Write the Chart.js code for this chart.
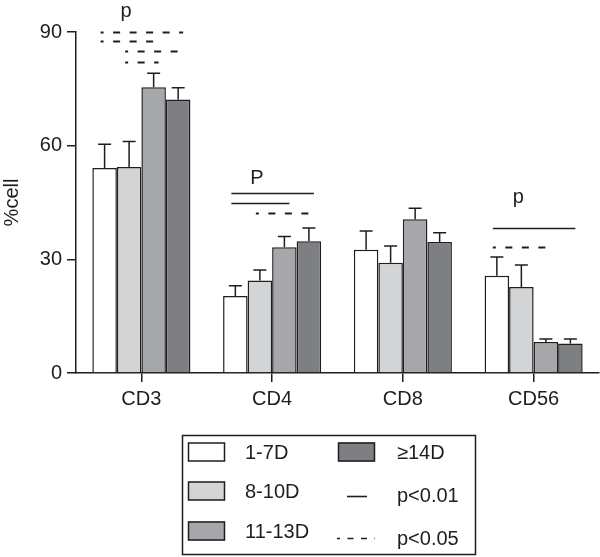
<!DOCTYPE html>
<html>
<head>
<meta charset="utf-8">
<script src="https://cdn.jsdelivr.net/npm/chart.js@4"></script>
<style>
html, body { margin: 0; padding: 0; background: #fff; }
</style>
</head>
<body>
<canvas id="myCanvas" width="600" height="557"></canvas>
<script>
'use strict'

var categories = ["CD3", "CD4", "CD8", "CD56"]
var seriesNames = ["1-7D", "8-10D", "11-13D", "\u226514D"]
var values1to7 = [54.1, 20.3, 32.5, 25.7]
var values8to10 = [54.4, 24.4, 29.1, 22.7]
var values11to13 = [75.4, 33.2, 40.6, 8.2]
var values14plus = [72.2, 34.8, 34.6, 7.8]
// upper error (SEM) for each bar
var err1to7 = [6.3, 2.7, 5.0, 4.9]
var err8to10 = [6.7, 2.8, 4.4, 5.8]
var err11to13 = [3.7, 2.8, 2.9, 0.8]
var err14plus = [3.1, 3.5, 2.4, 1.2]
var yTicks = [0, 30, 60, 90]

// significance lines: group, first bar, last bar, height (%), level
var sigGroup = [0, 0, 0, 0, 1, 1, 1, 3, 3]
var sigFrom = [0, 0, 1, 1, 0, 0, 1, 0, 0]
var sigTo = [3, 2, 3, 2, 3, 2, 3, 3, 2]
var sigY = [90, 87.5, 85.1, 82.2, 47.5, 44.9, 42.2, 38.2, 33.3]
var sigLevel = ["p<0.05", "p<0.05", "p<0.05", "p<0.05", "p<0.01", "p<0.01", "p<0.05", "p<0.01", "p<0.05"]
var pLevels = ["p<0.01", "p<0.05"]
var pLabels = ["p", "P", "p"]
var pLabelGroup = [0, 1, 3]
var pLabelY = [94, 49.9, 44.9]

var ink = "#1e1e1e"
var font = "'Liberation Sans', Arial, Helvetica, sans-serif"
var fills = ["#ffffff", "#d3d4d6", "#a6a7aa", "#7e7f82"]
var allValues = [values1to7, values8to10, values11to13, values14plus]
var allErrors = [err1to7, err8to10, err11to13, err14plus]

Chart.defaults.font.family = font

function buildDatasets(){
    var sets = []
    for(let i = 0; i < seriesNames.length; i++){
        sets.push({
            label: seriesNames[i],
            data: allValues[i],
            backgroundColor: fills[i],
            borderColor: ink,
            borderWidth: 1.5,
            borderSkipped: "bottom"
        })
    }
    return sets
}

function dashFor(level){
    return level === "p<0.05" ? [7, 9.5] : []
}

var annotations = {
    id: "annotations",
    afterDatasetsDraw: function(chart){
        var ctx = chart.ctx
        var y = chart.scales.y
        ctx.save()
        ctx.strokeStyle = ink
        ctx.lineWidth = 1.5
        // error bars
        for(let i = 0; i < allValues.length; i++){
            var bars = chart.getDatasetMeta(i).data
            for(let j = 0; j < bars.length; j++){
                var top = y.getPixelForValue(allValues[i][j] + allErrors[i][j])
                var bx = bars[j].x
                ctx.beginPath()
                ctx.moveTo(bx, bars[j].y)
                ctx.lineTo(bx, top)
                ctx.moveTo(bx - 6.5, top)
                ctx.lineTo(bx + 6.5, top)
                ctx.stroke()
            }
        }
        // significance lines
        for(let k = 0; k < sigY.length; k++){
            var x1 = chart.getDatasetMeta(sigFrom[k]).data[sigGroup[k]].x - 4
            var x2 = chart.getDatasetMeta(sigTo[k]).data[sigGroup[k]].x + 5
            var ly = Math.round(y.getPixelForValue(sigY[k])) + 0.5
            ctx.setLineDash(dashFor(sigLevel[k]))
            ctx.lineDashOffset = 4
            ctx.lineWidth = sigLevel[k] === "p<0.05" ? 2 : 1.6
            ctx.beginPath()
            ctx.moveTo(x1, ly)
            ctx.lineTo(x2, ly)
            ctx.stroke()
        }
        ctx.setLineDash([])
        ctx.fillStyle = ink
        ctx.font = "20px " + font
        ctx.textAlign = "center"
        ctx.textBaseline = "alphabetic"
        for(let k = 0; k < pLabels.length; k++){
            var px = chart.getDatasetMeta(1).data[pLabelGroup[k]].x - 3
            ctx.fillText(pLabels[k], px, y.getPixelForValue(pLabelY[k]))
        }
        ctx.restore()
    },
    afterDraw: function(chart){
        drawLegend(chart.ctx)
    }
}

function drawLegend(ctx){
    var rows0 = [452, 491, 531]
    var rows1 = [452, 495, 538]
    ctx.save()
    ctx.strokeStyle = ink
    ctx.lineWidth = 1.5
    ctx.strokeRect(182.5, 435.5, 293, 119)
    ctx.font = "20px " + font
    ctx.fillStyle = ink
    ctx.textAlign = "left"
    ctx.textBaseline = "middle"
    for(let i = 0; i < seriesNames.length; i++){
        var sx = i < 3 ? 188 : 338
        var tx = i < 3 ? 245 : 397
        var cy = i < 3 ? rows0[i] : rows1[0]
        ctx.fillStyle = fills[i]
        ctx.fillRect(sx, cy - 9.5, 37, 19)
        ctx.strokeRect(sx + 0.5, cy - 9, 36, 18)
        ctx.fillStyle = ink
        ctx.fillText(seriesNames[i], tx, cy + 1)
    }
    for(let k = 0; k < pLevels.length; k++){
        var ly = rows1[k + 1]
        ctx.lineWidth = 1.6
        if(k === 0){
            ctx.setLineDash([])
            ctx.beginPath()
            ctx.moveTo(347, ly + 1.5)
            ctx.lineTo(367, ly + 1.5)
            ctx.stroke()
        } else {
            ctx.setLineDash([6, 7.5])
            ctx.lineDashOffset = 3
            ctx.beginPath()
            ctx.moveTo(337, ly + 0.5)
            ctx.lineTo(375, ly + 0.5)
            ctx.stroke()
        }
        ctx.setLineDash([])
        ctx.fillText(pLevels[k], 397, ly + 1)
    }
    ctx.restore()
}

var canvas = document.getElementById("myCanvas")
new Chart(canvas.getContext("2d"), {
    type: "bar",
    data: {
        labels: categories,
        datasets: buildDatasets()
    },
    options: {
        responsive: false,
        animation: false,
        devicePixelRatio: 1,
        layout: { padding: { top: 32, right: 1, bottom: 144, left: 0 } },
        datasets: { bar: { categoryPercentage: 0.75, barPercentage: 1.0 } },
        plugins: { legend: { display: false }, tooltip: { enabled: false } },
        scales: {
            x: {
                grid: { drawOnChartArea: false, drawTicks: true, tickLength: 9, offset: false, color: ink, lineWidth: 1.5 },
                border: { display: true, color: ink, width: 1.5 },
                ticks: { color: ink, font: { size: 20 }, padding: 5 },
                afterFit: function(scale){ scale.height = 40 }
            },
            y: {
                min: 0,
                max: 90,
                afterBuildTicks: function(scale){
                    scale.ticks = yTicks.map(function(v){ return { value: v } })
                },
                grid: { drawOnChartArea: false, drawTicks: true, tickLength: 9, color: ink, lineWidth: 1.5 },
                border: { display: true, color: ink, width: 1.5 },
                ticks: { color: ink, font: { size: 20 }, padding: 5 },
                title: { display: true, text: "%cell", color: ink, font: { size: 20 }, padding: 0 },
                afterFit: function(scale){ scale.width = 76 }
            }
        }
    },
    plugins: [annotations]
})
</script>
</body>
</html>
